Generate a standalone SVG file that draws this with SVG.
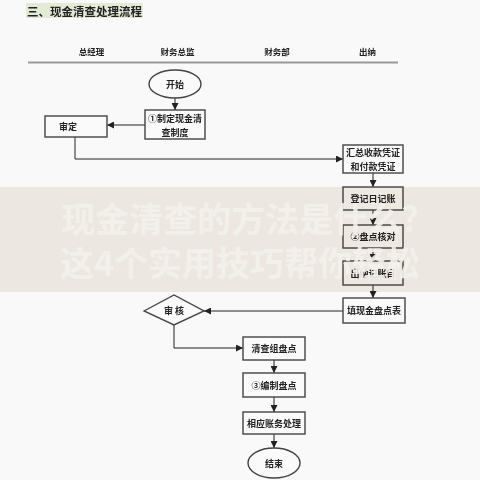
<svg xmlns="http://www.w3.org/2000/svg" width="480" height="480" viewBox="0 0 480 480">
<defs>
<marker id="ah" markerWidth="7" markerHeight="7" refX="7" refY="3.5" orient="auto" markerUnits="userSpaceOnUse"><path d="M0,0 L7,3.5 L0,7 z" fill="#222"/></marker>
<style>
.bx{fill:#fafafa;stroke:#444;stroke-width:1.4}
.t{font-family:"Noto Sans CJK SC","Noto Sans",sans-serif;font-size:9px;font-weight:bold;fill:#222;text-anchor:middle;dominant-baseline:central}
.h{font-family:"Noto Sans CJK SC",sans-serif;font-size:8.5px;font-weight:bold;fill:#222;text-anchor:middle;dominant-baseline:central}
.c{fill:none;stroke:#222;stroke-width:1;marker-end:url(#ah)}
</style>
</defs>
<rect width="480" height="480" fill="#f9f9f9"/>
<rect x="26" y="3" width="117" height="15" fill="#e3ebd6"/>
<text x="27" y="15.5" font-family="Noto Sans CJK SC,sans-serif" font-size="11.5" font-weight="bold" fill="#222">三、现金清查处理流程</text>
<text class="h" x="91.5" y="51">总经理</text>
<text class="h" x="177.5" y="51">财务总监</text>
<text class="h" x="277" y="51">财务部</text>
<text class="h" x="367.5" y="51">出纳</text>
<line x1="28" y1="62.5" x2="398" y2="62.5" stroke="#999" stroke-width="2"/>
<g id="connectors">
<path class="c" d="M175,98 V110"/>
<path class="c" d="M145,125 H107"/>
<path class="c" d="M75,137 V159 H343"/>
<path class="c" d="M373,173 V187"/>
<path class="c" d="M373,210 V225"/>
<path class="c" d="M373,248 V261"/>
<path class="c" d="M373,285 V298"/>
<path class="c" d="M343,311 H204"/>
<path class="c" d="M174,325 V348 H243"/>
<path class="c" d="M274,360 V373"/>
<path class="c" d="M274,397 V412"/>
<path class="c" d="M274,434 V448"/>
</g>
<g id="start"><ellipse class="bx" cx="175" cy="84" rx="26" ry="14"/><text class="t" x="175" y="84">开始</text></g>
<g id="n1"><rect class="bx" x="145" y="110" width="60" height="29"/><text class="t" x="175" y="118.5">①制定现金清</text><text class="t" x="175" y="132">查制度</text></g>
<g id="n2"><rect class="bx" x="45" y="116" width="62" height="21"/><text class="t" x="68" y="126.5">审定</text></g>
<g id="n3"><rect class="bx" x="343" y="145" width="60" height="28"/><text class="t" x="373" y="152.5">汇总收款凭证</text><text class="t" x="373" y="166">和付款凭证</text></g>
<g id="n4"><rect class="bx" x="343" y="187" width="60" height="23"/><text class="t" x="373" y="198.5">登记日记账</text></g>
<g id="n5"><rect class="bx" x="343" y="225" width="60" height="23"/><text class="t" x="373" y="236.5">②盘点核对</text></g>
<g id="n6"><rect class="bx" x="343" y="261" width="60" height="24"/><text class="t" x="373" y="273">出纳记账目</text></g>
<g id="n7"><rect class="bx" x="343" y="298" width="62" height="25"/><text class="t" x="374" y="310.5">填现金盘点表</text></g>
<g id="n8"><polygon class="bx" points="144,311 174,295 204,311 174,325"/><text class="t" x="174" y="310.5">审 核</text></g>
<g id="n9"><rect class="bx" x="243" y="337" width="62" height="23"/><text class="t" x="274" y="348.5">清查组盘点</text></g>
<g id="n10"><rect class="bx" x="243" y="373" width="62" height="24"/><text class="t" x="274" y="385">③编制盘点</text></g>
<g id="n11"><rect class="bx" x="243" y="412" width="62" height="22"/><text class="t" x="274" y="423">相应账务处理</text></g>
<g id="end"><ellipse class="bx" cx="274" cy="463" rx="26" ry="15"/><text class="t" x="274" y="463">结束</text></g>
<rect x="0" y="187" width="480" height="105" fill="#f2ede6" style="mix-blend-mode:multiply"/>
<g font-family="Noto Sans CJK SC,sans-serif" font-size="34" font-weight="bold" fill="#f3f1ed" text-anchor="middle" opacity="0.9">
<text x="240" y="232">现金清查的方法是什么?</text>
<text x="240" y="276">这4个实用技巧帮你轻松</text>
</g>
</svg>
